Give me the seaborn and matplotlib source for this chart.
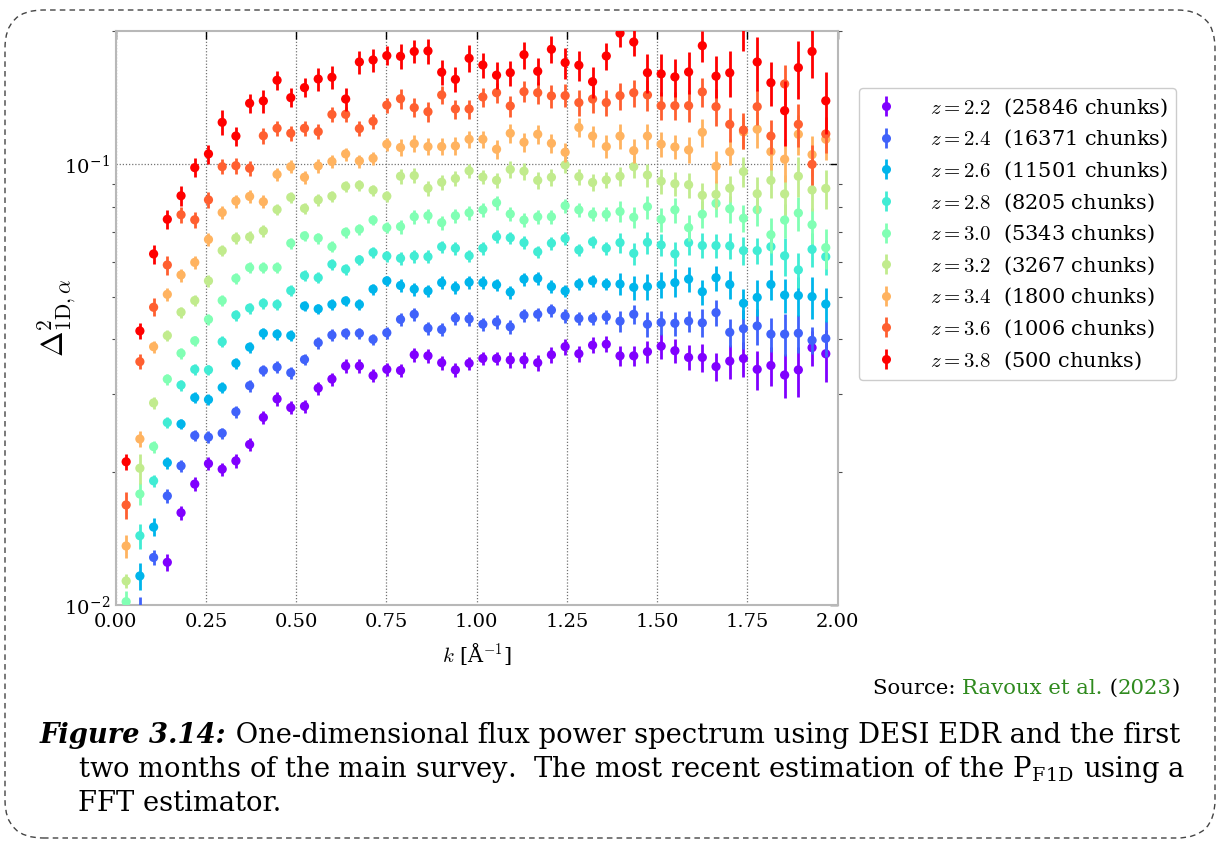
import numpy as np
import pandas as pd
import matplotlib
matplotlib.use("Agg")
import matplotlib.pyplot as plt
import seaborn as sns
from matplotlib.lines import Line2D
from matplotlib.patches import FancyBboxPatch
from matplotlib.ticker import LogLocator, NullFormatter

nan = np.nan

# ---------------- data ----------------
k = [0.029, 0.067, 0.105, 0.143, 0.181, 0.219, 0.257, 0.295, 0.333, 0.371,
     0.409, 0.447, 0.485, 0.523, 0.561, 0.599, 0.637, 0.675, 0.713, 0.751,
     0.789, 0.827, 0.865, 0.903, 0.941, 0.979, 1.017, 1.055, 1.093, 1.131,
     1.169, 1.207, 1.245, 1.283, 1.321, 1.359, 1.397, 1.435, 1.473, 1.511,
     1.549, 1.587, 1.625, 1.663, 1.701, 1.739, 1.777, 1.815, 1.853, 1.891,
     1.929, 1.967]

redshifts = [2.2, 2.4, 2.6, 2.8, 3.0, 3.2, 3.4, 3.6, 3.8]
chunks = [25846, 16371, 11501, 8205, 5343, 3267, 1800, 1006, 500]

p_z22 = [nan, nan, nan, 0.01248, 0.01617, 0.01878, 0.0209, 0.0203, 0.0212, 0.0231,
         0.0266, 0.0293, 0.0280, 0.0282, 0.0310, 0.0325, 0.0348, 0.0348, 0.0331, 0.0342,
         0.0340, 0.0369, 0.0367, 0.0354, 0.0341, 0.0353, 0.0362, 0.0362, 0.0359, 0.0359,
         0.0354, 0.0369, 0.0385, 0.0371, 0.0388, 0.0390, 0.0367, 0.0367, 0.0375, 0.0386,
         0.0377, 0.0364, 0.0364, 0.0347, 0.0357, 0.0362, 0.0342, 0.0349, 0.0332, 0.0341,
         0.0383, 0.0371]
p_z24 = [nan, 0.00962, 0.0128, 0.01765, 0.02065, 0.0242, 0.0240, 0.0245, 0.0274, 0.0314,
         0.0340, 0.0346, 0.0336, 0.0360, 0.0393, 0.0409, 0.0413, 0.0413, 0.0400, 0.0414,
         0.0444, 0.0456, 0.0424, 0.0421, 0.0447, 0.0445, 0.0433, 0.0438, 0.0427, 0.0454,
         0.0456, 0.0466, 0.0452, 0.0446, 0.0446, 0.0450, 0.0440, 0.0456, 0.0433, 0.0437,
         0.0435, 0.0440, 0.0436, 0.0460, 0.0415, 0.0423, 0.0429, 0.0411, 0.0411, 0.0413,
         0.0398, 0.0402]
p_z26 = [nan, 0.01162, 0.0150, 0.0210, 0.0257, 0.0295, 0.0292, 0.0311, 0.0353, 0.0384,
         0.0413, 0.0411, 0.0408, 0.0476, 0.0469, 0.0480, 0.0489, 0.0480, 0.0520, 0.0543,
         0.0530, 0.0520, 0.0515, 0.0538, 0.0525, 0.0539, 0.0538, 0.0532, 0.0512, 0.0548,
         0.0550, 0.0527, 0.0515, 0.0534, 0.0543, 0.0534, 0.0534, 0.0525, 0.0527, 0.0532,
         0.0538, 0.0548, 0.0513, 0.0552, 0.0533, 0.0483, 0.0498, 0.0533, 0.0504, 0.0503,
         0.0500, 0.0481]
p_z28 = [nan, 0.01434, 0.0191, 0.0259, 0.0315, 0.0342, 0.0341, 0.0395, 0.0454, 0.0471,
         0.0483, 0.0480, 0.0516, 0.0558, 0.0552, 0.0592, 0.0577, 0.0606, 0.0630, 0.0618,
         0.0611, 0.0618, 0.0616, 0.0649, 0.0644, 0.0619, 0.0644, 0.0684, 0.0680, 0.0663,
         0.0632, 0.0661, 0.0678, 0.0638, 0.0666, 0.0644, 0.0663, 0.0627, 0.0664, 0.0655,
         0.0625, 0.0663, 0.0653, 0.0653, 0.0652, 0.0636, 0.0636, 0.0649, 0.0619, 0.0575,
         0.0640, 0.0616]
p_z30 = [0.01016, 0.01783, 0.02284, 0.0325, 0.0372, 0.0397, 0.0444, 0.0490, 0.0550, 0.0582,
         0.0582, 0.0582, 0.0661, 0.0687, 0.0679, 0.0649, 0.0700, 0.0711, 0.0746, 0.0717,
         0.0721, 0.0759, 0.0763, 0.0736, 0.0763, 0.0775, 0.0787, 0.0817, 0.0770, 0.0746,
         0.0759, 0.0759, 0.0804, 0.0787, 0.0769, 0.0769, 0.0780, 0.0757, 0.0800, 0.0749,
         0.0787, 0.0717, 0.0769, 0.0814, 0.0791, 0.0753, 0.0787, 0.0691, 0.0746, 0.0774,
         0.0728, 0.0646]
p_z32 = [0.01132, 0.0204, 0.0287, 0.0408, 0.0461, 0.0490, 0.0543, 0.0636, 0.0679, 0.0683,
         0.0705, 0.0788, 0.0840, 0.0793, 0.0829, 0.0845, 0.0890, 0.0895, 0.0872, 0.0845,
         0.0938, 0.0941, 0.0881, 0.0909, 0.0927, 0.0965, 0.0934, 0.0918, 0.0972, 0.0963,
         0.0918, 0.0933, 0.0995, 0.0936, 0.0908, 0.0920, 0.0938, 0.0986, 0.0944, 0.0914,
         0.0902, 0.0897, 0.0849, 0.0853, 0.0881, 0.0961, 0.0856, 0.0918, 0.0855, 0.0938,
         0.0873, 0.0880]
p_z34 = [0.01359, 0.02377, 0.03849, 0.0506, 0.0560, 0.0598, 0.0674, 0.0776, 0.0824, 0.0844,
         0.0821, 0.0947, 0.0986, 0.0933, 0.0990, 0.1013, 0.1054, 0.1016, 0.1030, 0.1109,
         0.1090, 0.1112, 0.1095, 0.1095, 0.1099, 0.1138, 0.1138, 0.1080, 0.1174, 0.1120,
         0.1168, 0.1114, 0.1063, 0.1210, 0.1157, 0.1095, 0.1157, 0.1072, 0.1157, 0.1109,
         0.1093, 0.1076, 0.1180, 0.0988, 0.1066, 0.1182, 0.1199, 0.1066, 0.1025, 0.1168,
         0.1050, 0.1138]
p_z36 = [0.01684, 0.0356, 0.0473, 0.0590, 0.0767, 0.0747, 0.0829, 0.0986, 0.0991, 0.0978,
         0.1159, 0.1205, 0.1174, 0.1205, 0.1184, 0.1295, 0.1296, 0.1203, 0.1250, 0.1360,
         0.1406, 0.1342, 0.1314, 0.1434, 0.1333, 0.1333, 0.1419, 0.1451, 0.1354, 0.1459,
         0.1451, 0.1427, 0.1429, 0.1378, 0.1404, 0.1378, 0.1429, 0.1451, 0.1434, 0.1356,
         0.1356, 0.1356, 0.1457, 0.1349, 0.1230, 0.1194, 0.1349, 0.1157, 0.1519, 0.1230,
         0.0998, 0.1170]
p_z38 = [0.0211, 0.0418, 0.0625, 0.0749, 0.0847, 0.0981, 0.1054, 0.1243, 0.1157, 0.1373,
         0.1390, 0.1549, 0.1414, 0.1490, 0.1559, 0.1573, 0.1404, 0.1704, 0.1722, 0.1761,
         0.1755, 0.1800, 0.1805, 0.1615, 0.1556, 0.1737, 0.1677, 0.1590, 0.1611, 0.1770,
         0.1623, 0.1821, 0.1698, 0.1675, 0.1537, 0.1758, 0.1980, 0.1891, 0.1611, 0.1601,
         0.1576, 0.1617, 0.1855, 0.1582, 0.1610, 0.2070, 0.1704, 0.1529, 0.1321, 0.1654,
         0.1800, 0.1391]

# relative 1-sigma uncertainties in percent
e_z22 = [nan, nan, nan, 4.5, 3.5, 3.5, 3.5, 3.5, 3.5, 3.5, 3.5, 3.5, 3.5, 3.5, 3.5, 3.5,
         3.5, 3.5, 3.5, 3.5, 3.5, 3.5, 3.5, 3.5, 3.5, 3.5, 3.5, 3.5, 4.2, 4.2, 4.2, 4.2,
         4.2, 4.2, 4.2, 4.2, 5.2, 5.2, 5.7, 6.3, 6.3, 6.5, 7.3, 7.3, 9, 9, 10, 10, 11.5,
         13, 9, 13.5]
e_z24 = [nan, 8, 4, 3.5, 3, 3, 3, 3, 3, 3, 3, 3, 3, 3, 3, 3, 3, 3, 3, 3,
         3.5, 3.5, 3.5, 3.5, 3.5, 3.5, 3.5, 3.5, 3.5, 3.5, 3.5, 3.5, 3.5, 3.5, 3.5, 3.5,
         5.7, 5.2, 6.3, 6.3, 6.3, 5.7, 7.3, 6.8, 7.3, 10, 9.4, 9, 11, 10, 7, 9.4]
e_z26 = [nan, 7, 4.7, 3, 2.8, 2.8, 2.8, 2.8, 2.8, 2.8, 2.8, 2.8, 2.8, 2.8, 2.8, 2.8,
         2.8, 2.8, 2.8, 2.8, 3.3, 3.3, 3.3, 3.3, 3.3, 3.3, 3.3, 3.3, 3.3, 3.3, 3.3, 3.3,
         3.3, 3.3, 3.3, 3.3, 5.7, 6.3, 6.8, 6.8, 7.3, 6.3, 6.5, 6.5, 7.3, 7.8, 9.4, 7.8,
         9, 10, 11, 9]
e_z28 = [nan, 6.5, 3.2, 2.8, 2.8, 2.8, 2.8, 2.8, 2.8, 2.8, 2.8, 2.8, 2.8, 2.8, 2.8, 2.8,
         2.8, 2.8, 2.8, 2.8, 3.3, 3.3, 3.3, 3.3, 3.3, 3.3, 3.3, 3.3, 3.3, 3.3, 3.3, 3.3,
         3.3, 3.3, 3.3, 3.3, 5.2, 5.7, 5.7, 5.7, 6.3, 6.3, 6.5, 6.3, 6.8, 7.3, 6.8, 9,
         10, 9, 9, 9]
e_z30 = [6, 5.7, 3.2, 2.8, 2.8, 2.8, 2.8, 2.8, 2.8, 2.8, 2.8, 2.8, 2.8, 2.8, 2.8, 2.8,
         2.8, 2.8, 2.8, 2.8, 3.6, 3.6, 3.6, 3.6, 3.6, 3.6, 3.6, 3.6, 3.6, 3.6, 3.6, 3.6,
         3.6, 3.6, 3.6, 3.6, 5.5, 5.7, 6, 6.3, 6.5, 6.8, 7, 7, 7, 7, 8, 9, 9, 9, 9.4, 10.4]
e_z32 = [3.5, 8, 3, 3, 3, 3, 3, 3, 3, 3, 3, 3, 3, 3, 3, 3, 3, 3, 3, 3,
         3.8, 3.8, 3.8, 3.8, 3.8, 3.8, 3.8, 3.8, 4.3, 4.3, 4.3, 4.3, 4.3, 4.3, 4.3, 4.3,
         5.2, 5.7, 6, 6.3, 6.3, 6.5, 6.8, 7.3, 6.8, 7.8, 9.4, 9, 10.4, 10.4, 10.4, 10.4]
e_z34 = [6, 4, 3.2, 3.4, 3.4, 3.4, 3.4, 3.4, 3.4, 3.4, 3.4, 3.4, 3.4, 3.4, 3.4, 3.4,
         3.4, 3.4, 3.4, 3.4, 4.5, 4.5, 4.5, 4.5, 4.5, 4.5, 4.5, 5, 5, 5, 5, 5, 5, 5,
         5.5, 6, 6.3, 6.3, 6.5, 6.5, 6.3, 6.8, 7.3, 8.4, 6.8, 8.4, 9.4, 9, 11, 10.4,
         10.4, 10.4]
e_z36 = [7, 4, 4.7, 5, 4, 4, 4, 4, 4, 4, 4, 4, 4, 4, 4, 4, 4, 4, 4, 4,
         5, 5, 5, 4.7, 5, 5, 5, 5, 5.5, 5.5, 5.7, 6, 6, 6.8, 7, 7, 7, 7, 8, 7.3,
         7.3, 8.3, 7.8, 9.4, 9, 9.4, 9, 9, 10.4, 11, 10.4, 9.4]
e_z38 = [4, 4, 5, 5, 5, 5, 5, 6.5, 5, 5, 6, 5, 5, 5, 6, 6, 6, 6, 6, 5,
         6.5, 6, 6.5, 6.5, 6.5, 7, 6.5, 7, 6.5, 7, 7, 7, 8, 8, 8, 7, 7, 7, 10, 11,
         10, 11, 8, 11, 12, 13, 14, 11.5, 17, 15, 13, 16]

x_ticks = [0.00, 0.25, 0.50, 0.75, 1.00, 1.25, 1.50, 1.75, 2.00]
x_tick_labels = ["0.00", "0.25", "0.50", "0.75", "1.00", "1.25", "1.50", "1.75", "2.00"]
y_ticks = [0.01, 0.1]
y_tick_labels = [r"10$^{\mathregular{-2}}$", r"10$^{\mathregular{-1}}$"]

powers = [p_z22, p_z24, p_z26, p_z28, p_z30, p_z32, p_z34, p_z36, p_z38]
errors = [e_z22, e_z24, e_z26, e_z28, e_z30, e_z32, e_z34, e_z36, e_z38]

rows = []
for z, pv, ev in zip(redshifts, powers, errors):
    for kk, p, e in zip(k, pv, ev):
        rows.append({"k": kk, "P": p, "rel": e, "z": z})
df = pd.DataFrame(rows)

# ---------------- style ----------------
sns.set_theme(style="white")
plt.rcParams["font.family"] = ["DejaVu Serif"]
plt.rcParams["mathtext.fontset"] = "cm"
plt.rcParams["axes.unicode_minus"] = False
for key in ("text.color", "axes.labelcolor", "xtick.color", "ytick.color"):
    plt.rcParams[key] = "black"

W, H = 1220, 843
fig = plt.figure(figsize=(W / 100, H / 100), dpi=100)
fig.patch.set_facecolor("white")


def fx(px):
    return px / W


def fy(py):
    return 1 - py / H


ax = fig.add_axes([fx(115.7), fy(604.7), fx(837.7) - fx(115.7), fy(31.3) - fy(604.7)])
ax.set_facecolor("white")

colors = sns.color_palette(plt.cm.rainbow(np.linspace(0, 1, len(redshifts))))

handles, labels = [], []
for i, (z, n) in enumerate(zip(redshifts, chunks)):
    sub = df[df["z"] == z]
    c = colors[i]
    ax.errorbar(sub["k"], sub["P"], yerr=sub["P"] * sub["rel"] / 100.0, fmt="none",
                ecolor=c, elinewidth=2.0, capsize=0, zorder=3 + 2 * i)
    sns.scatterplot(x=sub["k"], y=sub["P"], color=c, s=44, edgecolor="none",
                    linewidth=0, ax=ax, zorder=4 + 2 * i, legend=False)
    handles.append((Line2D([], [], ls="none", marker="|", ms=15, mew=2.0, color=c),
                    Line2D([], [], ls="none", marker="o", ms=6.5, mec="none", color=c)))
    labels.append(rf"$z={z:.1f}$  ({n} chunks)")

ax.set_yscale("log")
ax.set_xlim(0, 2)
ax.set_ylim(0.01, 0.2)

ax.set_xticks(x_ticks, x_tick_labels)
ax.set_yticks(y_ticks, y_tick_labels)
ax.yaxis.set_minor_locator(LogLocator(base=10, subs=np.arange(2, 10)))
ax.yaxis.set_minor_formatter(NullFormatter())

ax.tick_params(axis="both", which="major", labelsize=14, direction="in", length=6,
               width=1.0, color="black", top=True, right=True)
ax.tick_params(axis="y", which="major", pad=4)
ax.tick_params(axis="x", which="major", pad=6)
ax.tick_params(axis="y", which="minor", direction="out", length=3, width=0.8,
               color="0.3", left=True, right=True)

ax.grid(True, which="major", ls=(0, (1, 1.5)), color="0.45", lw=0.9)
ax.set_axisbelow(True)
for s in ax.spines.values():
    s.set_color("#b8b8b8")
    s.set_linewidth(1.5)

ax.set_xlabel(r"$k$ [Å$^{-1}$]", fontsize=15)
ax.set_ylabel(r"$\Delta^{2}_{1\mathrm{D},\alpha}$", fontsize=22)
ax.xaxis.set_label_coords(0.5, -0.064)
ax.yaxis.set_label_coords(-0.052, 0.5)

leg = ax.legend(handles, labels, loc="upper left",
                bbox_to_anchor=(fx(859), fy(88)), bbox_transform=fig.transFigure,
                borderaxespad=0, fontsize=15, frameon=True, fancybox=True,
                handlelength=1.8, handletextpad=1.2, labelspacing=0.44,
                borderpad=0.4, framealpha=1)
leg.get_frame().set_edgecolor("#cccccc")
leg.get_frame().set_linewidth(1.0)

# ---------------- caption ----------------
renderer = fig.canvas.get_renderer()


def wpx(t):
    return t.get_window_extent(renderer).width


green = "#2f8a1e"
src_parts = [("Source: ", "black"), ("Ravoux et al.", green), (" (", "black"),
             ("2023", green), (")", "black")]
fs_src = 14
src_texts = [fig.text(0, fy(694), s, color=c, fontsize=fs_src, va="baseline", ha="left")
             for s, c in src_parts]
total = sum(wpx(t) for t in src_texts)
scale = 308.0 / total
for t in src_texts:
    t.set_fontsize(fs_src * scale)
total = sum(wpx(t) for t in src_texts)
xpos = 1180 - total
for t in src_texts:
    t.set_x(fx(xpos))
    xpos += wpx(t)

fs_cap = 20
c1a = fig.text(fx(40), fy(743), "Figure 3.14:", fontsize=fs_cap, fontweight="bold",
               fontstyle="italic", va="baseline")
c1b = fig.text(0, fy(743), " One-dimensional flux power spectrum using DESI EDR and the first",
               fontsize=fs_cap, va="baseline")
c2 = fig.text(fx(78), fy(777),
              r"two months of the main survey.  The most recent estimation of the P$_{\mathregular{F1D}}$ using a",
              fontsize=fs_cap, va="baseline")
c3 = fig.text(fx(78), fy(811), "FFT estimator.", fontsize=fs_cap, va="baseline")
tot1 = wpx(c1a) + wpx(c1b)
sc = 1140.0 / tot1
for t in (c1a, c1b, c2, c3):
    t.set_fontsize(fs_cap * sc)
c1b.set_x(fx(40 + wpx(c1a)))

# dashed rounded frame
frame = FancyBboxPatch((0.05, 0.05), 12.1, 8.28,
                       boxstyle="round,pad=0,rounding_size=0.38",
                       transform=fig.dpi_scale_trans, fill=False,
                       edgecolor="#444444", linewidth=1.0, linestyle=(0, (4, 3)))
fig.patches.append(frame)

fig.savefig("out.png", dpi=100, facecolor="white")
